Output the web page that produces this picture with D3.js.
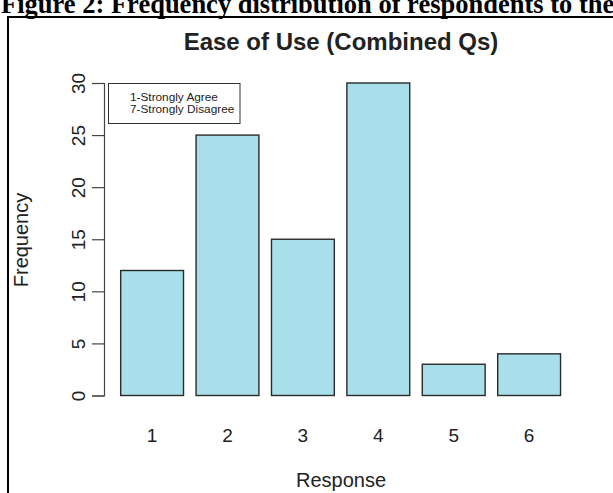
<!DOCTYPE html>
<html>
<head>
<meta charset="utf-8">
<script src="https://cdn.jsdelivr.net/npm/d3@7"></script>
<style>
  html, body { margin: 0; padding: 0; background: #fff; }
  svg { display: block; }
</style>
</head>
<body>
<svg id="chart" width="613" height="493"></svg>
<script>
// Response categories and how often each was chosen
const categories = ["1", "2", "3", "4", "5", "6"];
const frequencies = [12, 25, 15, 30, 3, 4];
const yTicks = [0, 5, 10, 15, 20, 25, 30];
const legendLines = ["1-Strongly Agree", "7-Strongly Disagree"];

const svg = d3.select("#chart");
const sans = "'Liberation Sans', Arial, Helvetica, sans-serif";
const ink = "#222";

// Caption above the framed figure
svg.append("text")
  .attr("x", 1).attr("y", 12.5)
  .attr("font-family", "'Liberation Serif', 'Times New Roman', serif")
  .attr("font-weight", "bold")
  .attr("font-size", 26.5)
  .attr("fill", "#000")
  .text("Figure 2: Frequency distribution of respondents to the");

// Figure frame (left and top edges visible)
svg.append("path")
  .attr("d", "M8,493 V17 H613")
  .attr("fill", "none")
  .attr("stroke", "#000")
  .attr("stroke-width", 2);

// Scales
const x = d3.scaleBand()
  .domain(categories)
  .range([108.1, 573.1])
  .paddingInner(1 / 6)
  .paddingOuter(1 / 6);

const y = d3.scaleLinear()
  .domain([0, 30])
  .range([395.5, 83]);

// Bars
svg.append("g")
  .selectAll("rect")
  .data(frequencies)
  .join("rect")
  .attr("x", (d, i) => x(categories[i]))
  .attr("y", d => y(d))
  .attr("width", x.bandwidth())
  .attr("height", d => y(0) - y(d))
  .attr("fill", "#a9dfea")
  .attr("stroke", "#2a2a2a")
  .attr("stroke-width", 1.4);

// Y axis
const yAxis = svg.append("g")
  .attr("transform", "translate(104,0)")
  .call(d3.axisLeft(y).tickValues(yTicks).tickSize(12).tickPadding(0).tickFormat(d3.format("d")));
yAxis.select(".domain").attr("stroke", "#444").attr("stroke-width", 1.2);
yAxis.selectAll(".tick line").attr("stroke", "#444").attr("stroke-width", 1.2);
yAxis.selectAll(".tick text")
  .attr("font-family", sans)
  .attr("font-size", 19)
  .attr("fill", ink)
  .attr("text-anchor", "middle")
  .attr("dy", null)
  .attr("x", null)
  .attr("transform", "translate(-26,0) rotate(-90)")
  .attr("dominant-baseline", "central");

// X axis labels (no axis line, as in base R barplot)
const xAxis = svg.append("g")
  .attr("transform", "translate(0,395.5)")
  .call(d3.axisBottom(x).tickSize(0).tickPadding(0));
xAxis.select(".domain").remove();
xAxis.selectAll(".tick text")
  .attr("font-family", sans)
  .attr("font-size", 19)
  .attr("fill", ink)
  .attr("dy", null)
  .attr("y", 46.5);

// Title
svg.append("text")
  .attr("x", 341).attr("y", 49.5)
  .attr("text-anchor", "middle")
  .attr("font-family", sans)
  .attr("font-weight", "bold")
  .attr("font-size", 24)
  .attr("fill", ink)
  .text("Ease of Use (Combined Qs)");

// Axis titles
svg.append("text")
  .attr("x", 341).attr("y", 487)
  .attr("text-anchor", "middle")
  .attr("font-family", sans)
  .attr("font-size", 20)
  .attr("fill", ink)
  .text("Response");

svg.append("text")
  .attr("transform", "translate(28,240) rotate(-90)")
  .attr("text-anchor", "middle")
  .attr("font-family", sans)
  .attr("font-size", 20)
  .attr("fill", ink)
  .text("Frequency");

// Legend box
const legend = svg.append("g");
legend.append("rect")
  .attr("x", 108.5).attr("y", 83.5)
  .attr("width", 131.5).attr("height", 40)
  .attr("fill", "#fff")
  .attr("stroke", "#333")
  .attr("stroke-width", 1);
legend.selectAll("text")
  .data(legendLines)
  .join("text")
  .attr("x", 130)
  .attr("y", (d, i) => 100.5 + i * 12.8)
  .attr("font-family", sans)
  .attr("font-size", 11.8)
  .attr("fill", ink)
  .text(d => d);
</script>
</body>
</html>
